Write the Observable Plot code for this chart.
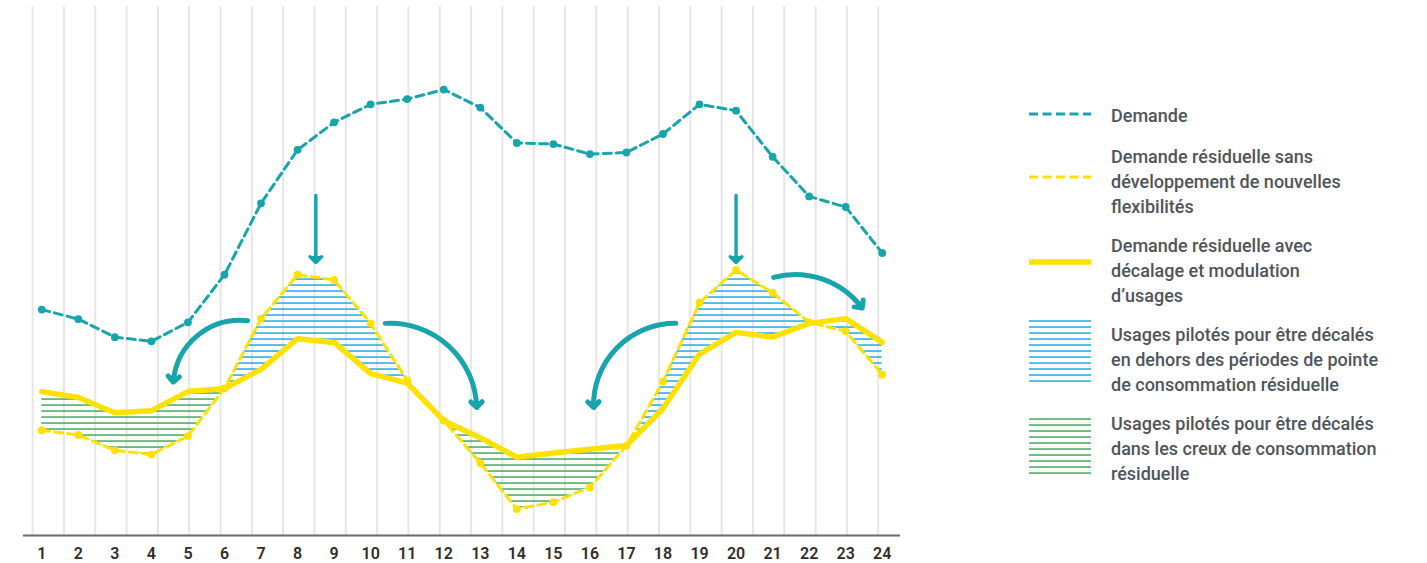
<!DOCTYPE html>
<html lang="fr">
<head>
<meta charset="utf-8">
<script src="https://cdn.jsdelivr.net/npm/d3@7"></script>
<script src="https://cdn.jsdelivr.net/npm/@observablehq/plot@0.6"></script>
<style>
  html, body { margin: 0; padding: 0; background: #ffffff; }
  body { font-family: Roboto, "Noto Sans", sans-serif; }
  #wrap { position: relative; width: 1427px; height: 563px; overflow: hidden; }
  #chart { position: absolute; left: 0; top: 0; }
  .lg { position: absolute; left: 1111px; font-size: 18px; font-weight: 500; line-height: 25px; color: #4f545c; white-space: nowrap; }
  .sw { position: absolute; left: 1029px; }
</style>
</head>
<body>
<svg width="0" height="0" style="position:absolute">
  <defs>
    <pattern id="hb" patternUnits="userSpaceOnUse" width="12" height="6">
      <rect x="0" y="2.3" width="12" height="1.5" fill="#22aae4"></rect>
    </pattern>
    <pattern id="hg" patternUnits="userSpaceOnUse" width="12" height="6">
      <rect x="0" y="2.3" width="12" height="1.5" fill="#45a862"></rect>
    </pattern>
  </defs>
</svg>
<div id="wrap">
  <div id="chart"></div>
  <div id="legend"></div>
</div>
<script>
// ---- Données (unités arbitraires) ----
const heures = [1, 2, 3, 4, 5, 6, 7, 8, 9, 10, 11, 12, 13, 14, 15, 16, 17, 18, 19, 20, 21, 22, 23, 24];
const demande = [42.7, 40.9, 37.5, 36.7, 40.3, 49.3, 62.8, 72.9, 78.1, 81.5, 82.5, 84.3,
                 80.9, 74.2, 74.0, 72.1, 72.4, 75.9, 81.5, 80.3, 71.6, 64.1, 62.1, 53.4];
const residuelleSans = [19.9, 19.0, 16.1, 15.3, 18.8, 27.8, 41.0, 49.3, 48.3, 40.1, 29.3, 21.7,
                        13.7, 5.0, 6.3, 9.1, 17.0, 29.1, 44.0, 50.2, 45.9, 40.3, 38.6, 30.4];
const residuelleAvec = [27.2, 26.1, 23.2, 23.6, 27.2, 27.8, 31.4, 37.2, 36.5, 30.6, 28.8, 21.7,
                        18.5, 14.8, 15.6, 16.3, 17.0, 24.0, 34.3, 38.4, 37.5, 40.1, 41.0, 36.5];
// Plages horaires des usages décalés
const plagesCreux = [[1, 6], [12, 17]];   // vers les creux (vert)
const plagesPointe = [[6, 12], [17, 24]]; // hors des pointes (bleu)
// Flèches d'annotation (unités des données)
const flechesDroites = [
  {x1: 8.5, y1: 64.3, x2: 8.5, y2: 51.6},
  {x1: 20, y1: 64.3, x2: 20, y2: 51.6}
];
const flechesGauche = [
  {x1: 6.63, y1: 40.6, x2: 4.6, y2: 29.0},
  {x1: 18.35, y1: 40.1, x2: 16.1, y2: 24.2}
];
const flechesDroite = [
  {x1: 10.4, y1: 40.1, x2: 12.9, y2: 24.2}
];
const flechesFin = [
  {x1: 21.03, y1: 48.8, x2: 23.45, y2: 43.0}
];
const legende = [
  "Demande",
  "Demande résiduelle sans<br>développement de nouvelles<br>flexibilités",
  "Demande résiduelle avec<br>décalage et modulation<br>d’usages",
  "Usages pilotés pour être décalés<br>en dehors des périodes de pointe<br>de consommation résiduelle",
  "Usages pilotés pour être décalés<br>dans les creux de consommation<br>résiduelle"
];

// ---- Construction ----
const teal = "#18a4ab";
const jaune = "#ffe100";
const rows = heures.map((h, i) => ({h, dem: demande[i], sans: residuelleSans[i], avec: residuelleAvec[i]}));
const spanRows = (spans) => spans.flatMap(([a, b], k) =>
  rows.filter(r => r.h >= a && r.h <= b).map(r => ({...r, span: k})));

// Quadrillage décoratif : 28 colonnes régulières sur le cadre
const xDomain = [0.5, 24.5];
const nGrid = 28;
const gridStep = (xDomain[1] - xDomain[0]) / nGrid;
const gridX = d3.range(nGrid).map(i => xDomain[0] + gridStep * (0.29 + i));

const chart = Plot.plot({
  width: 1000,
  height: 563,
  marginLeft: 23,
  marginRight: 100,
  marginTop: 6,
  marginBottom: 28,
  style: {fontFamily: "Roboto, sans-serif", background: "transparent"},
  x: {domain: xDomain, axis: null},
  y: {domain: [0, 100], axis: null},
  marks: [
    Plot.ruleX(gridX, {stroke: "#e6e6e6", strokeWidth: 2}),
    Plot.areaY(spanRows(plagesCreux), {x: "h", y1: "avec", y2: "sans", z: "span", fill: "url(#hg)", curve: "linear"}),
    Plot.areaY(spanRows(plagesPointe), {x: "h", y1: "avec", y2: "sans", z: "span", fill: "url(#hb)", curve: "linear"}),
    Plot.ruleY([0], {stroke: "#6b6b6b", strokeWidth: 2.2}),
    Plot.axisX(heures, {tickSize: 0, tickPadding: 12, fontSize: 16, fontWeight: 600, fill: "#2d2d2d", tickFormat: d => String(d)}),
    Plot.line(rows, {x: "h", y: "dem", stroke: teal, strokeWidth: 3, strokeDasharray: "8,5"}),
    Plot.dot(rows, {x: "h", y: "dem", r: 3.9, fill: teal}),
    Plot.line(rows, {x: "h", y: "sans", stroke: jaune, strokeWidth: 3, strokeDasharray: "8,5"}),
    Plot.dot(rows, {x: "h", y: "sans", r: 3.9, fill: jaune}),
    Plot.line(rows, {x: "h", y: "avec", stroke: jaune, strokeWidth: 5.5, strokeLinejoin: "miter"}),
    Plot.arrow(flechesDroites, {x1: "x1", y1: "y1", x2: "x2", y2: "y2", stroke: teal, strokeWidth: 3.4, headLength: 3.6, headAngle: 90}),
    Plot.arrow(flechesGauche, {x1: "x1", y1: "y1", x2: "x2", y2: "y2", bend: -46, stroke: teal, strokeWidth: 5, headLength: 2.4, headAngle: 90}),
    Plot.arrow(flechesDroite, {x1: "x1", y1: "y1", x2: "x2", y2: "y2", bend: 46, stroke: teal, strokeWidth: 5, headLength: 2.4, headAngle: 90}),
    Plot.arrow(flechesFin, {x1: "x1", y1: "y1", x2: "x2", y2: "y2", bend: 34, stroke: teal, strokeWidth: 5, headLength: 2.4, headAngle: 90})
  ]
});
// Remplit les pointes de flèches (triangle plein comme l'original)
chart.querySelectorAll('g[aria-label="arrow"] path').forEach(p => {
  const d = p.getAttribute("d");
  const k = d.lastIndexOf("M");
  if (k <= 0) return;
  const head = document.createElementNS("http://www.w3.org/2000/svg", "path");
  head.setAttribute("d", d.slice(k) + "Z");
  head.setAttribute("fill", teal);
  head.setAttribute("stroke", teal);
  head.setAttribute("stroke-width", 1);
  head.setAttribute("stroke-linejoin", "miter");
  p.parentNode.appendChild(head);
});
document.getElementById("chart").appendChild(chart);

// ---- Légende ----
const lg = document.getElementById("legend");
const textTops = [102.5, 143.5, 232.5, 321.5, 410.5];
legende.forEach((t, i) => {
  const d = document.createElement("div");
  d.className = "lg";
  d.style.top = textTops[i] + "px";
  d.innerHTML = t;
  lg.appendChild(d);
});
const ns = "http://www.w3.org/2000/svg";
function swatch(top, h, inner) {
  const s = document.createElementNS(ns, "svg");
  s.setAttribute("class", "sw");
  s.setAttribute("width", 62);
  s.setAttribute("height", h);
  s.style.top = top + "px";
  s.innerHTML = inner;
  lg.appendChild(s);
}
swatch(110, 8, `<line x1="0" x2="62" y1="4" y2="4" stroke="${teal}" stroke-width="2.8" stroke-dasharray="9,4.5"/>`);
swatch(173, 8, `<line x1="0" x2="62" y1="4" y2="4" stroke="${jaune}" stroke-width="2.8" stroke-dasharray="9,4.5"/>`);
swatch(257, 10, `<line x1="0" x2="62" y1="5" y2="5" stroke="${jaune}" stroke-width="5.5"/>`);
swatch(318, 64, `<rect width="62" height="64" fill="url(#hb)"/>`);
swatch(416, 60, `<rect width="62" height="60" fill="url(#hg)"/>`);
</script>
</body>
</html>
